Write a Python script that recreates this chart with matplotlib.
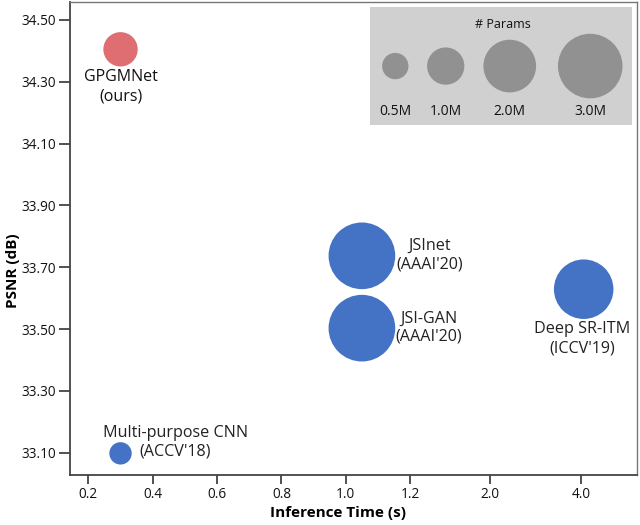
import numpy as np
import matplotlib
matplotlib.use("Agg")
import matplotlib.pyplot as plt
from matplotlib.patches import Rectangle

plt.rcParams['font.family'] = ['Open Sans', 'DejaVu Sans']

# ---- data ----
names = ["GPGMNet", "Multi-purpose CNN", "JSInet", "JSI-GAN", "Deep SR-ITM"]
subs = ["(ours)", "(ACCV'18)", "(AAAI'20)", "(AAAI'20)", "(ICCV'19)"]
times = [0.30, 0.30, 1.05, 1.05, 4.05]          # inference time (s)
psnr = [34.405, 33.098, 33.737, 33.503, 33.629]  # dB
params = [0.85, 0.36, 3.2, 3.2, 2.55]            # millions
legend_params = [0.5, 1.0, 2.0, 3.0]
legend_labels = ["0.5M", "1.0M", "2.0M", "3.0M"]
x_ticks = [0.2, 0.4, 0.6, 0.8, 1.0, 1.2, 2.0, 4.0]
x_ticklabels = ["0.2", "0.4", "0.6", "0.8", "1.0", "1.2", "2.0", "4.0"]
y_ticks = [33.10, 33.30, 33.50, 33.70, 33.90, 34.10, 34.30, 34.50]

# piecewise-linear axis scale (as in the figure)
tick_pos = np.array([0, 1, 2, 3, 4, 5, 6.24, 7.66])
tv = np.array(x_ticks)


def fwd(x):
    x = np.asarray(x, dtype=float)
    y = np.interp(x, tv, tick_pos)
    lo = x < tv[0]
    hi = x > tv[-1]
    s0 = (tick_pos[1] - tick_pos[0]) / (tv[1] - tv[0])
    s1 = (tick_pos[-1] - tick_pos[-2]) / (tv[-1] - tv[-2])
    y = np.where(lo, tick_pos[0] + (x - tv[0]) * s0, y)
    y = np.where(hi, tick_pos[-1] + (x - tv[-1]) * s1, y)
    return y


def inv(p):
    p = np.asarray(p, dtype=float)
    x = np.interp(p, tick_pos, tv)
    lo = p < tick_pos[0]
    hi = p > tick_pos[-1]
    s0 = (tv[1] - tv[0]) / (tick_pos[1] - tick_pos[0])
    s1 = (tv[-1] - tv[-2]) / (tick_pos[-1] - tick_pos[-2])
    x = np.where(lo, tv[0] + (p - tick_pos[0]) * s0, x)
    x = np.where(hi, tv[-1] + (p - tick_pos[-1]) * s1, x)
    return x


SIZE = 720.0
blue = "#4472C4"
red = "#DE6E72"
colors = [red, blue, blue, blue, blue]

fig = plt.figure(figsize=(6.4, 5.25), dpi=100)
ax = fig.add_axes([70 / 640, 50 / 525, 566.7 / 640, 473.3 / 525])
ax.set_xscale('function', functions=(fwd, inv))
ax.set_xlim(0.143, 5.21)
ax.set_ylim(33.028, 34.559)

ax.scatter(times, psnr, s=[p * SIZE for p in params], c=colors,
           linewidths=0, zorder=3)

# labels (offsets in points relative to each bubble)
lab_specs = [
    # (dx1, dy1, dx2, dy2, ha2, size, color)
    (0, -20.0, 0, -33.9, 'center', 11.5, '#111111'),
    (39.6, 14.4, 13.3, 1.2, 'left', 11.6, '#222222'),
    (49, 7.2, 49, -6.2, 'center', 11.6, '#222222'),
    (48.2, 6.8, 48.2, -5.9, 'center', 11.6, '#222222'),
    (-1, -29, -1, -43, 'center', 11.6, '#222222'),
]
for i, (n, sb) in enumerate(zip(names, subs)):
    dx1, dy1, dx2, dy2, ha2, fs, col = lab_specs[i]
    ax.annotate(n, (times[i], psnr[i]), xytext=(dx1, dy1),
                textcoords='offset points', ha='center', va='center',
                fontsize=fs, color=col)
    ax.annotate(sb, (times[i], psnr[i]), xytext=(dx2, dy2),
                textcoords='offset points', ha=ha2, va='center',
                fontsize=fs, color=col)

# size legend box
ax.add_patch(Rectangle((0.529, 0.7395), 0.462, 0.2485, transform=ax.transAxes,
                       facecolor='#D0D0D0', edgecolor='none', zorder=4))
ax.text(0.764, 0.951, "# Params", transform=ax.transAxes, ha='center',
        va='center', fontsize=9, color='#111111', zorder=5)
lx = [0.574, 0.663, 0.776, 0.918]
ax.scatter(lx, [0.864] * 4, s=[p * SIZE for p in legend_params],
           c='#919191', linewidths=0, transform=ax.transAxes, zorder=5,
           clip_on=False)
for x, t in zip(lx, legend_labels):
    ax.text(x, 0.769, t, transform=ax.transAxes, ha='center', va='center',
            fontsize=10, color='#111111', zorder=5)

ax.set_xticks(x_ticks)
ax.set_xticklabels(x_ticklabels)
ax.minorticks_off()
ax.set_yticks(y_ticks)
ax.set_yticklabels([f"{v:.2f}" for v in y_ticks])
ax.tick_params(axis='both', labelsize=9.8, colors='#111111')
ax.tick_params(axis='y', length=8, width=1.2, pad=2, color='#333333')
ax.tick_params(axis='x', length=6.5, width=1.2, pad=2, color='#333333')

for s in ['left', 'bottom']:
    ax.spines[s].set_color('#444444')
    ax.spines[s].set_linewidth(1.3)
for s in ['top', 'right']:
    ax.spines[s].set_color('#777777')
    ax.spines[s].set_linewidth(1.0)

ax.set_xlabel("Inference Time (s)", fontsize=11, fontweight='bold')
ax.xaxis.set_label_coords(0.473, -0.080)
ax.xaxis.label.set_va('center')
ax.set_ylabel("PSNR (dB)", fontsize=11, fontweight='bold')
ax.yaxis.set_label_coords(-0.100, 0.431)
ax.yaxis.label.set_va('center')

fig.savefig("out.png", dpi=100)
